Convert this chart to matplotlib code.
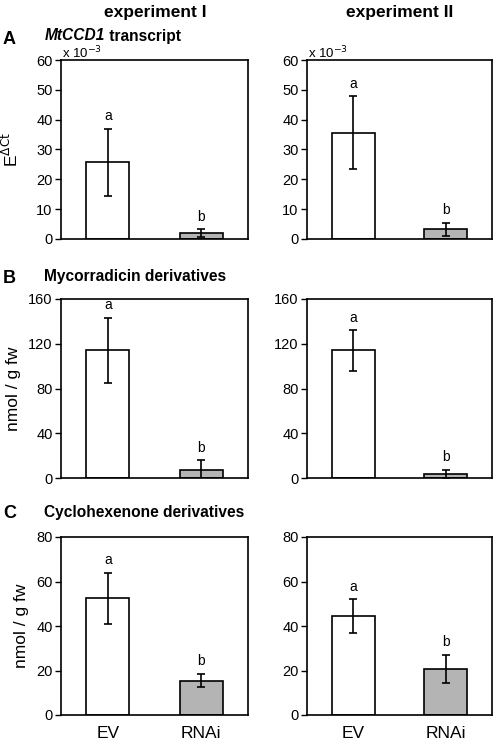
import matplotlib.pyplot as plt

plt.rcParams['font.family'] = ['Liberation Sans', 'DejaVu Sans']

groups = ['EV', 'RNAi']
bar_colors = ['white', '#b4b4b4']

# panel A: MtCCD1 transcript (x 10^-3)
a_exp1 = [25.7, 2.0]
a_exp1_err = [11.3, 1.3]
a_exp2 = [35.6, 3.2]
a_exp2_err = [12.3, 2.2]

# panel B: mycorradicin derivatives (nmol / g fw)
b_exp1 = [114, 7]
b_exp1_err = [29, 9]
b_exp2 = [114, 3.5]
b_exp2_err = [18, 4]

# panel C: cyclohexenone derivatives (nmol / g fw)
c_exp1 = [52.5, 15.5]
c_exp1_err = [11.5, 3.0]
c_exp2 = [44.5, 20.8]
c_exp2_err = [7.5, 6.3]

letters = ['a', 'b']

W, H = 498, 743
fig = plt.figure(figsize=(W / 100, H / 100), dpi=100)


def box(x0, y0, x1, y1):
    return [x0 / W, 1 - y1 / H, (x1 - x0) / W, (y1 - y0) / H]


rows = [
    (a_exp1, a_exp1_err, a_exp2, a_exp2_err, [0, 10, 20, 30, 40, 50, 60], 60, 239),
    (b_exp1, b_exp1_err, b_exp2, b_exp2_err, [0, 40, 80, 120, 160], 299, 478),
    (c_exp1, c_exp1_err, c_exp2, c_exp2_err, [0, 20, 40, 60, 80], 537, 715),
]

axes = []
for r, (v1, e1, v2, e2, ticks, top, bot) in enumerate(rows):
    for c, (vals, errs) in enumerate([(v1, e1), (v2, e2)]):
        if c == 0:
            ax = fig.add_axes(box(61, top, 248, bot))
        else:
            ax = fig.add_axes(box(307, top, 492, bot))
        xs = range(len(groups))
        ax.bar(xs, vals, width=0.46, color=bar_colors, edgecolor='black', linewidth=1.2, zorder=2)
        ax.errorbar(xs, vals, yerr=errs, fmt='none', ecolor='black', elinewidth=1.2,
                    capsize=3, capthick=1.2, zorder=3)
        for i in xs:
            ax.annotate(letters[i], (i, vals[i] + errs[i]), xytext=(0, 4), textcoords='offset points',
                        ha='center', va='bottom', fontsize=10)
        ax.set_xlim(-0.5, 1.5)
        ax.set_ylim(ticks[0], ticks[-1])
        ax.set_yticks(ticks)
        ax.tick_params(axis='y', direction='out', length=4.5, width=1, labelsize=10.5, pad=1.5)
        if r == 2:
            ax.set_xticks(list(xs))
            ax.set_xticklabels(groups, fontsize=12.5)
            ax.tick_params(axis='x', length=0, pad=8)
        else:
            ax.set_xticks([])
        for s in ax.spines.values():
            s.set_linewidth(1.2)
        if r == 0:
            ax.annotate(r'x 10$^{-3}$', (0, 1), xycoords='axes fraction', xytext=(1, 1),
                        textcoords='offset points', ha='left', va='baseline', fontsize=9.5)
        axes.append(ax)

axes[0].set_ylabel(r'E$^{\Delta\mathrm{Ct}}$', fontsize=12.5, labelpad=11)
axes[2].set_ylabel('nmol / g fw', fontsize=12.5, labelpad=5)
axes[4].set_ylabel('nmol / g fw', fontsize=12.5, labelpad=5)

fig.text(155 / W, 1 - 12 / H, 'experiment I', ha='center', va='center', fontsize=12.5, fontweight='bold')
fig.text(400 / W, 1 - 12 / H, 'experiment II', ha='center', va='center', fontsize=12.5, fontweight='bold')

for lab, y in [('A', 40), ('B', 278), ('C', 513)]:
    fig.text(3 / W, 1 - y / H, lab, ha='left', va='center', fontsize=13, fontweight='bold')

t1 = fig.text(45 / W, 1 - 36 / H, 'MtCCD1', ha='left', va='center', fontsize=11.2,
              fontweight='bold', fontstyle='italic')
plt.annotate(' transcript', xy=(1, 0), xycoords=t1, ha='left', va='bottom',
             fontsize=11.2, fontweight='bold', annotation_clip=False)
fig.text(44 / W, 1 - 277 / H, 'Mycorradicin derivatives', ha='left', va='center', fontsize=11.2, fontweight='bold')
fig.text(44 / W, 1 - 512 / H, 'Cyclohexenone derivatives', ha='left', va='center', fontsize=11.2, fontweight='bold')

fig.savefig('out.png', dpi=100)
